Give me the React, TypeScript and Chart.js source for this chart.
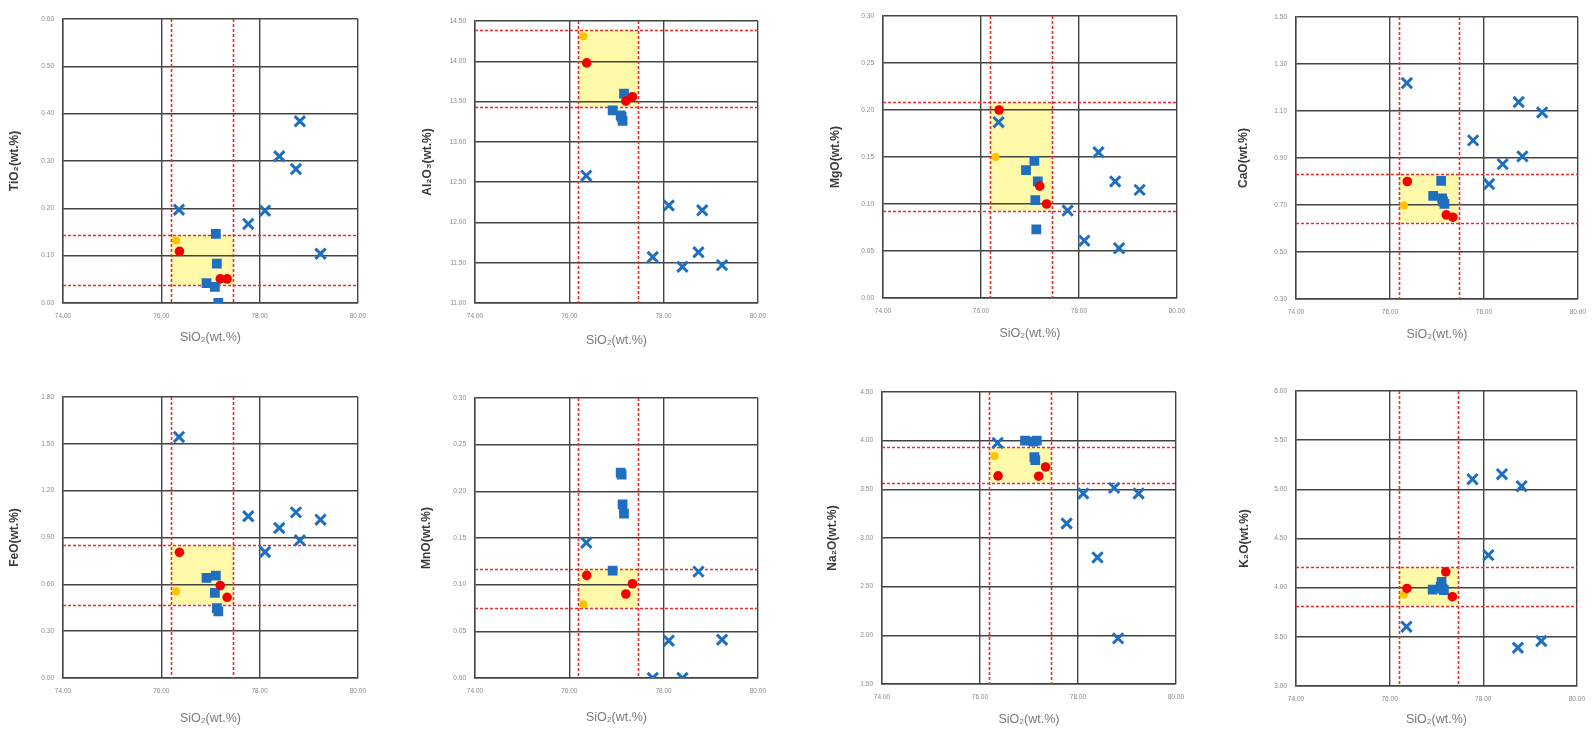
import React, { useEffect, useRef } from 'react';
import { Chart, registerables } from 'chart.js';

Chart.register(...registerables);

// ---------- data ----------
const SIO2_MIN = 74;
const SIO2_MAX = 80;
const SIO2_STEP = 2;

// SiO2 (wt.%) of each sample group
const SIO2_CROSS = [76.36, 77.77, 78.11, 78.4, 78.74, 78.82, 79.24];
const SIO2_SQUARE = [76.92, 77.09, 77.11, 77.13, 77.16];
const SIO2_RED = [76.37, 77.2, 77.34];
const SIO2_YELLOW = [76.3];
const SIO2_RANGE = [76.19, 77.46];

// TiO2
const TIO2_CROSS = [0.197, 0.167, 0.195, 0.31, 0.283, 0.384, 0.104];
const TIO2_SQUARE = [0.042, 0.034, 0.146, 0.083, 0.0];
const TIO2_RED = [0.109, 0.051, 0.051];
const TIO2_YELLOW = [0.132];
const TIO2_RANGE = [0.038, 0.144];

// Al2O3
const AL2O3_CROSS = [12.58, 11.57, 12.21, 11.45, 11.63, 12.15, 11.47];
const AL2O3_SQUARE = [13.39, 13.33, 13.31, 13.26, 13.6];
const AL2O3_RED = [13.98, 13.505, 13.56];
const AL2O3_YELLOW = [14.31];
const AL2O3_RANGE = [13.435, 14.39];

// MgO
const MGO_CROSS = [0.187, 0.093, 0.061, 0.155, 0.124, 0.053, 0.115];
const MGO_SQUARE = [0.136, 0.146, 0.104, 0.073, 0.124];
const MGO_RED = [0.2, 0.119, 0.1];
const MGO_YELLOW = [0.15];
const MGO_RANGE = [0.093, 0.208];

// CaO
const CAO_CROSS = [1.219, 0.975, 0.789, 0.874, 1.138, 0.907, 1.094];
const CAO_SQUARE = [0.739, 0.803, 0.728, 0.715, 0.705];
const CAO_RED = [0.8, 0.658, 0.648];
const CAO_YELLOW = [0.698];
const CAO_RANGE = [0.625, 0.831];

// FeO
const FEO_CROSS = [1.544, 1.036, 0.807, 0.961, 1.061, 0.882, 1.014];
const FEO_SQUARE = [0.641, 0.545, 0.656, 0.448, 0.427];
const FEO_RED = [0.805, 0.592, 0.517];
const FEO_YELLOW = [0.555];
const FEO_RANGE = [0.47, 0.85];

// MnO
const MNO_CROSS = [0.145, 0.0, 0.04, 0.0, 0.114, null, 0.041];
const MNO_SQUARE = [0.115, 0.22, 0.218, 0.186, 0.176];
const MNO_RED = [0.11, 0.09, 0.101];
const MNO_YELLOW = [0.079];
const MNO_RANGE = [0.075, 0.117];

// Na2O
const NA2O_CROSS = [3.977, 3.149, 3.457, 2.8, 3.515, 1.969, 3.457];
const NA2O_SQUARE = [4.0, 3.99, 3.83, 3.8, 4.0];
const NA2O_RED = [3.638, 3.635, 3.73];
const NA2O_YELLOW = [3.843];
const NA2O_RANGE = [3.57, 3.932];

// K2O
const K2O_CROSS = [3.603, 5.103, 4.331, 5.154, 3.389, 5.032, 3.457];
const K2O_SQUARE = [3.98, 4.01, 4.06, 3.99, 3.975];
const K2O_RED = [3.992, 4.161, 3.908];
const K2O_YELLOW = [3.931];
const K2O_RANGE = [3.816, 4.209];

const X_TITLE = 'SiO₂(wt.%)';

type PanelDef = {
  title: string;
  min: number;
  max: number;
  step: number;
  cross: (number | null)[];
  square: number[];
  red: number[];
  yellow: number[];
  range: number[];
};

const PANELS: PanelDef[] = [
  { title: 'TiO₂(wt.%)', min: 0, max: 0.6, step: 0.1, cross: TIO2_CROSS, square: TIO2_SQUARE, red: TIO2_RED, yellow: TIO2_YELLOW, range: TIO2_RANGE },
  { title: 'Al₂O₃(wt.%)', min: 11, max: 14.5, step: 0.5, cross: AL2O3_CROSS, square: AL2O3_SQUARE, red: AL2O3_RED, yellow: AL2O3_YELLOW, range: AL2O3_RANGE },
  { title: 'MgO(wt.%)', min: 0, max: 0.3, step: 0.05, cross: MGO_CROSS, square: MGO_SQUARE, red: MGO_RED, yellow: MGO_YELLOW, range: MGO_RANGE },
  { title: 'CaO(wt.%)', min: 0.3, max: 1.5, step: 0.2, cross: CAO_CROSS, square: CAO_SQUARE, red: CAO_RED, yellow: CAO_YELLOW, range: CAO_RANGE },
  { title: 'FeO(wt.%)', min: 0, max: 1.8, step: 0.3, cross: FEO_CROSS, square: FEO_SQUARE, red: FEO_RED, yellow: FEO_YELLOW, range: FEO_RANGE },
  { title: 'MnO(wt.%)', min: 0, max: 0.3, step: 0.05, cross: MNO_CROSS, square: MNO_SQUARE, red: MNO_RED, yellow: MNO_YELLOW, range: MNO_RANGE },
  { title: 'Na₂O(wt.%)', min: 1.5, max: 4.5, step: 0.5, cross: NA2O_CROSS, square: NA2O_SQUARE, red: NA2O_RED, yellow: NA2O_YELLOW, range: NA2O_RANGE },
  { title: 'K₂O(wt.%)', min: 3, max: 6, step: 0.5, cross: K2O_CROSS, square: K2O_SQUARE, red: K2O_RED, yellow: K2O_YELLOW, range: K2O_RANGE },
];

// ---------- layout (page pixel positions of each plot area) ----------
const PLOT_RECTS = [
  [63, 19, 364, 303],
  [475, 21, 764, 303],
  [883, 16, 1183, 298],
  [1296, 17, 1584, 299],
  [63, 397, 364, 678],
  [475, 398, 764, 678],
  [882, 392, 1182, 684],
  [1296, 391, 1583, 686],
];
const X_TITLE_GAP = [35, 38, 36, 36, 41, 40, 36, 34];
const Y_TITLE_GAP = [48, 47, 47, 52, 48, 48, 49, 51];

const LEFT_EXT = 62;
const TOP_EXT = 14;
const RIGHT_EXT = 11;
const BOTTOM_EXT = 52;

const BLUE = '#1F6FC0';
const GRID = '#444444';
const FONT = "'Liberation Sans', 'DejaVu Sans', sans-serif";

function pts(xs: number[], ys: (number | null)[]) {
  const out: { x: number; y: number }[] = [];
  xs.forEach((x, i) => {
    const y = ys[i];
    if (y !== null && y !== undefined) out.push({ x, y });
  });
  return out;
}

function PanelChart({ def, idx }: { def: PanelDef; idx: number }) {
  const ref = useRef<HTMLCanvasElement | null>(null);
  const [L, T, R, B] = PLOT_RECTS[idx];
  const cw = R - L + LEFT_EXT + RIGHT_EXT;
  const ch = B - T + TOP_EXT + BOTTOM_EXT;

  useEffect(() => {
    if (!ref.current) return;
    const yTitleSize = 12;
    const yLine = yTitleSize * 1.2;
    const xTitleSize = 12.5;
    const xLine = xTitleSize * 1.2;

    const refPlugin = {
      id: 'refBox' + idx,
      beforeDraw(chart: any) {
        const { ctx, scales } = chart;
        const xs = scales.x;
        const ys = scales.y;
        const x0 = xs.getPixelForValue(SIO2_RANGE[0]);
        const x1 = xs.getPixelForValue(SIO2_RANGE[1]);
        const y0 = ys.getPixelForValue(def.range[0]);
        const y1 = ys.getPixelForValue(def.range[1]);
        ctx.save();
        ctx.fillStyle = '#FFF9AA';
        ctx.fillRect(x0, y1, x1 - x0, y0 - y1);
        ctx.restore();
      },
      beforeDatasetsDraw(chart: any) {
        const { ctx, chartArea, scales } = chart;
        const xs = scales.x;
        const ys = scales.y;
        ctx.save();
        ctx.strokeStyle = '#EE2A2A';
        ctx.lineWidth = 1.6;
        ctx.setLineDash([3, 2]);
        SIO2_RANGE.forEach((v) => {
          const px = Math.round(xs.getPixelForValue(v)) + 0.5;
          ctx.beginPath();
          ctx.moveTo(px, chartArea.top);
          ctx.lineTo(px, chartArea.bottom);
          ctx.stroke();
        });
        def.range.forEach((v) => {
          const py = Math.round(ys.getPixelForValue(v)) + 0.5;
          ctx.beginPath();
          ctx.moveTo(chartArea.left, py);
          ctx.lineTo(chartArea.right, py);
          ctx.stroke();
        });
        ctx.restore();
      },
    };

    const chart = new Chart(ref.current, {
      type: 'scatter',
      data: {
        datasets: [
          {
            label: 'red',
            data: pts(SIO2_RED, def.red),
            pointStyle: 'circle',
            pointRadius: 4.8,
            backgroundColor: '#F20000',
            borderColor: '#F20000',
            borderWidth: 0,
            order: 1,
          },
          {
            label: 'square',
            data: pts(SIO2_SQUARE, def.square),
            pointStyle: 'rect',
            pointRadius: 6.9,
            backgroundColor: BLUE,
            borderColor: BLUE,
            borderWidth: 0,
            order: 2,
          },
          {
            label: 'yellow',
            data: pts(SIO2_YELLOW, def.yellow),
            pointStyle: 'circle',
            pointRadius: 4,
            backgroundColor: '#FFC000',
            borderColor: '#FFC000',
            borderWidth: 0,
            order: 3,
          },
          {
            label: 'cross',
            data: pts(SIO2_CROSS, def.cross),
            pointStyle: 'crossRot',
            pointRadius: 7.3,
            backgroundColor: BLUE,
            borderColor: BLUE,
            borderWidth: 3,
            order: 4,
          },
        ],
      },
      options: {
        animation: false,
        responsive: false,
        devicePixelRatio: 1,
        layout: { padding: { top: TOP_EXT, right: RIGHT_EXT, left: 0, bottom: 0 } },
        plugins: {
          legend: { display: false },
          tooltip: { enabled: false },
          title: { display: false },
        },
        scales: {
          x: {
            type: 'linear',
            position: 'bottom',
            min: SIO2_MIN,
            max: SIO2_MAX,
            afterFit: (s: any) => {
              s.height = BOTTOM_EXT;
            },
            ticks: {
              stepSize: SIO2_STEP,
              padding: 9,
              color: '#8a8a8a',
              font: { size: 6.5, family: FONT },
              callback: (v: any) => Number(v).toFixed(2),
              maxRotation: 0,
              autoSkip: false,
            },
            grid: { color: GRID, lineWidth: 1.4, drawTicks: false },
            border: { display: true, color: GRID, width: 1.4 },
            title: {
              display: true,
              text: X_TITLE,
              color: '#7a7a7a',
              font: { size: xTitleSize, family: FONT },
              padding: { top: 0, bottom: BOTTOM_EXT - X_TITLE_GAP[idx] - xLine / 2 },
            },
          },
          y: {
            type: 'linear',
            position: 'left',
            min: def.min,
            max: def.max,
            afterFit: (s: any) => {
              s.width = LEFT_EXT;
            },
            ticks: {
              stepSize: def.step,
              padding: 9,
              color: '#8a8a8a',
              font: { size: 6.5, family: FONT },
              callback: (v: any) => Number(v).toFixed(2),
              autoSkip: false,
            },
            grid: { color: GRID, lineWidth: 1.4, drawTicks: false },
            border: { display: true, color: GRID, width: 1.4 },
            title: {
              display: true,
              text: def.title,
              color: '#3a3a3a',
              font: { size: yTitleSize, family: FONT, weight: 'bold' },
              padding: { top: LEFT_EXT - Y_TITLE_GAP[idx] - yLine / 2, bottom: 0 },
            },
          },
        },
      },
      plugins: [refPlugin],
    } as any);
    return () => chart.destroy();
  }, [def, idx]);

  return (
    <canvas
      ref={ref}
      width={cw}
      height={ch}
      style={{
        position: 'absolute',
        left: L - LEFT_EXT,
        top: T - TOP_EXT,
        width: cw,
        height: ch,
      }}
    />
  );
}

export default function App() {
  return (
    <div
      style={{
        position: 'fixed',
        left: 0,
        top: 0,
        width: 1595,
        height: 731,
        overflow: 'hidden',
        background: '#ffffff',
      }}
    >
      {PANELS.map((p, i) => (
        <PanelChart key={i} def={p} idx={i} />
      ))}
    </div>
  );
}
